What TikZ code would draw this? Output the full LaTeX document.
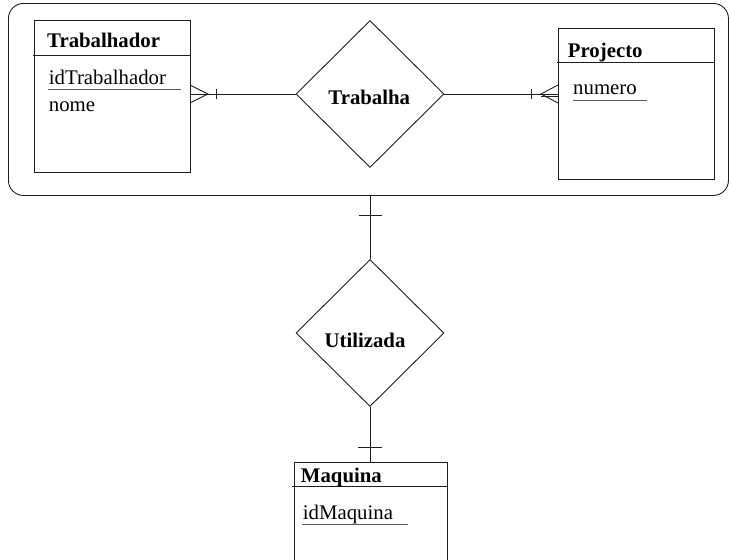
\documentclass[tikz,border=0pt]{standalone}
\usepackage{fontspec}
\setmainfont{Liberation Serif}
\usetikzlibrary{shapes.geometric}
\definecolor{ink}{HTML}{1E1E1E}
\definecolor{keyrule}{HTML}{5A5A5A}
\begin{document}
\begin{tikzpicture}[x=1pt,y=-1pt,
  entity/.style={draw=ink, line width=0.9pt, rectangle, anchor=north west,
    inner sep=0pt, minimum width=#1},
  entity/.default=156pt,
  relation/.style={draw=ink, line width=0.9pt, diamond, inner sep=0pt,
    minimum width=148pt, minimum height=147pt},
  grouping/.style={draw=ink, line width=0.9pt, rectangle, rounded corners=15pt,
    anchor=north west, inner sep=0pt},
  titletext/.style={font=\fontsize{20.8}{24}\selectfont\bfseries, anchor=base west, inner sep=0pt},
  reltext/.style={font=\fontsize{20.8}{24}\selectfont\bfseries, anchor=base, inner sep=0pt},
  attrtext/.style={font=\fontsize{20.8}{24}\selectfont, anchor=base west, inner sep=0pt},
  conn/.style={draw=ink, line width=0.9pt},
  keyline/.style={draw=keyrule, line width=1pt}
]
\useasboundingbox (0,0) rectangle (729,560);
\clip (0,0) rectangle (729,560);

% aggregation box around Trabalhador -- Trabalha -- Projecto
\node[grouping, minimum width=720pt, minimum height=192pt] (grp) at (8,3) {};

% entities
\node[entity, minimum height=152pt] (trb) at (34,20) {};
\node[entity, minimum height=151pt] (prj) at (558,28) {};
\node[entity=153pt, minimum height=120pt] (maq) at (294,462) {};

% header separators
\draw[conn] ([xshift=-1pt,yshift=-35pt]trb.north west) -- ([yshift=-35pt]trb.north east);
\draw[conn] ([xshift=-1pt,yshift=-34pt]prj.north west) -- ([yshift=-34pt]prj.north east);
\draw[conn] ([xshift=-2pt,yshift=-24pt]maq.north west) -- ([yshift=-24pt]maq.north east);

% entity titles and attributes
\node[titletext] (trbT) at (47,47) {Trabalhador};
\node[attrtext] (trbA) at (48.7,84) {idTrabalhador};
\node[attrtext] (trbB) at (48.7,111) {nome};
\node[titletext] (prjT) at (567.7,57) {Projecto};
\node[attrtext] (prjA) at (573,94) {numero};
\node[titletext] (maqT) at (300.7,482) {Maquina};
\node[attrtext] (maqA) at (302.7,519) {idMaquina};

% key underlines
\coordinate (k1a) at (48,89);   \coordinate (k1b) at (181,89);
\coordinate (k2a) at (573,100); \coordinate (k2b) at (647,100);
\coordinate (k3a) at (302,524); \coordinate (k3b) at (408,524);
\draw[keyline] (k1a) -- (k1b);
\draw[keyline] (k2a) -- (k2b);
\draw[keyline] (k3a) -- (k3b);

% relationships
\node[relation] (trab) at (370,94) {};
\node[relation] (util) at (370,333) {};
\node[reltext] (trabT) at (369.3,104.3) {Trabalha};
\node[reltext] (utilT) at (365,347.3) {Utilizada};

% Trabalhador -- Trabalha (many, mandatory)
\coordinate (A) at (trb.east |- trab.west);
\draw[conn] (A) -- (trab.west);
\draw[conn] ([yshift=8.5pt]A) -- ([xshift=17pt]A) -- ([yshift=-8.5pt]A);
\draw[conn] ([xshift=26pt,yshift=5pt]A) -- ([xshift=26pt,yshift=-5pt]A);

% Trabalha -- Projecto (many, mandatory)
\coordinate (B) at (prj.west |- trab.east);
\draw[conn] (trab.east) -- (B);
\draw[conn] ([xshift=-17pt,yshift=-2.3pt]B) -- ([yshift=-2.3pt]B);
\draw[conn] ([yshift=9pt]B) -- ([xshift=-17pt]B) -- ([yshift=-9pt]B);
\draw[conn] ([xshift=-27pt,yshift=5pt]B) -- ([xshift=-27pt,yshift=-5pt]B);

% aggregation -- Utilizada (one)
\coordinate (C) at (util.north |- grp.south);
\draw[conn] (C) -- (util.north);
\draw[conn] ([xshift=-11.5pt,yshift=-20pt]C) -- ([xshift=11.5pt,yshift=-20pt]C);

% Utilizada -- Maquina (one)
\coordinate (D) at (util.south |- maq.north);
\draw[conn] (util.south) -- (D);
\draw[conn] ([xshift=-12pt,yshift=15pt]D) -- ([xshift=12pt,yshift=15pt]D);
\end{tikzpicture}
\end{document}
